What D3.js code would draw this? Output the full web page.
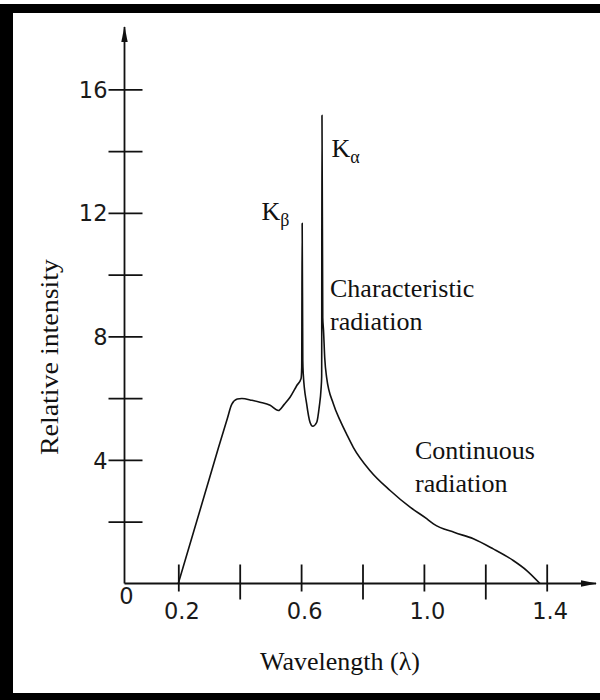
<!DOCTYPE html>
<html>
<head>
<meta charset="utf-8">
<script src="https://cdn.jsdelivr.net/npm/d3@7"></script>
<style>
  html, body { margin: 0; padding: 0; background: #fff; }
  svg { display: block; }
</style>
</head>
<body>
<svg id="chart" width="600" height="700"></svg>
<script>
// X-ray tube spectrum: relative intensity against wavelength
const wavelength = [
  0.200, 0.287, 0.330, 0.360, 0.374, 0.392, 0.407, 0.440, 0.466, 0.499,
  0.526, 0.545, 0.564, 0.586, 0.600, 0.602, 0.6035, 0.6055, 0.607, 0.618,
  0.629, 0.638, 0.651, 0.659, 0.665, 0.667, 0.668, 0.6705, 0.673, 0.677,
  0.683, 0.705, 0.727, 0.749, 0.770, 0.824, 0.890, 0.955, 1.009, 1.031,
  1.100, 1.161, 1.226, 1.291, 1.335, 1.378
];
const intensity = [
  0.00, 2.92, 4.37, 5.35, 5.80, 5.97, 5.99, 5.93, 5.87, 5.77,
  5.60, 5.80, 6.03, 6.41, 6.64, 7.00, 11.66, 7.20, 6.79, 5.82,
  5.22, 5.09, 5.22, 5.71, 6.30, 6.70, 15.16, 8.60, 8.20, 7.30,
  6.68, 5.82, 5.28, 4.82, 4.41, 3.66, 3.01, 2.47, 2.10, 1.93,
  1.65, 1.45, 1.12, 0.745, 0.42, 0.00
];

const xTickValues = [0.2, 0.4, 0.6, 0.8, 1.0, 1.2, 1.4];
const xTickLabels = ["0.2", "", "0.6", "", "1.0", "", "1.4"];
const yTickValues = [2, 4, 6, 8, 10, 12, 14, 16];
const yTickLabels = ["", "4", "", "8", "", "12", "", "16"];
const originLabel = "0";

const xTitle = "Wavelength (λ)";
const yTitle = "Relative intensity";
const peakNames = [
  { base: "K", sub: "β" },
  { base: "K", sub: "α" }
];
const noteCharacteristic = ["Characteristic", "radiation"];
const noteContinuous = ["Continuous", "radiation"];

const svg = d3.select("#chart");
const serif = "'Liberation Serif', 'Times New Roman', serif";
const sans = "'DejaVu Sans', Verdana, sans-serif";
const ink = "#111";

// frame
svg.append("rect").attr("x", 0).attr("y", 4).attr("width", 600).attr("height", 9).attr("fill", "#000");
svg.append("rect").attr("x", 0).attr("y", 4).attr("width", 13).attr("height", 696).attr("fill", "#000");
svg.append("rect").attr("x", 0).attr("y", 693).attr("width", 600).attr("height", 7).attr("fill", "#000");

// scales
const x = d3.scaleLinear().domain([0.2, 1.4]).range([178.3, 546.7]);
const y = d3.scaleLinear().domain([0, 16]).range([583.5, 89.3]);
const originX = 124.5;

// arrowheads
const defs = svg.append("defs");
defs.append("marker")
  .attr("id", "arrow")
  .attr("viewBox", "0 0 16 8")
  .attr("refX", 15).attr("refY", 4)
  .attr("markerWidth", 16).attr("markerHeight", 8)
  .attr("markerUnits", "userSpaceOnUse")
  .attr("orient", "auto")
  .append("path")
  .attr("d", "M0,0.8 L16,4 L0,7.2 Z")
  .attr("fill", ink);

// axis lines
svg.append("line")
  .attr("x1", originX).attr("y1", y(0))
  .attr("x2", 596).attr("y2", y(0))
  .attr("stroke", ink).attr("stroke-width", 1.8)
  .attr("marker-end", "url(#arrow)");
svg.append("line")
  .attr("x1", originX).attr("y1", y(0))
  .attr("x2", originX).attr("y2", 27)
  .attr("stroke", ink).attr("stroke-width", 1.8)
  .attr("marker-end", "url(#arrow)");

// x axis ticks
const xAxis = d3.axisBottom(x)
  .tickValues(xTickValues)
  .tickSize(0)
  .tickPadding(0)
  .tickFormat((d, i) => xTickLabels[i]);
const gx = svg.append("g")
  .attr("transform", `translate(0,${y(0)})`)
  .call(xAxis);
gx.select(".domain").remove();
gx.selectAll(".tick line")
  .attr("y1", -19)
  .attr("y2", (d, i) => xTickLabels[i] ? 8 : 16)
  .attr("stroke", ink).attr("stroke-width", 1.8);
gx.selectAll(".tick text")
  .attr("x", 3)
  .attr("y", 35.5)
  .attr("dy", null)
  .attr("fill", "#1a1a1a")
  .style("font-family", sans)
  .style("font-size", "22.5px");

// y axis ticks
const yAxis = d3.axisLeft(y)
  .tickValues(yTickValues)
  .tickSize(0)
  .tickPadding(0)
  .tickFormat((d, i) => yTickLabels[i]);
const gy = svg.append("g")
  .attr("transform", `translate(${originX},0)`)
  .call(yAxis);
gy.select(".domain").remove();
gy.selectAll(".tick line")
  .attr("x1", -16).attr("x2", 18)
  .attr("stroke", ink).attr("stroke-width", 1.8);
gy.selectAll(".tick text")
  .attr("x", -17)
  .attr("dy", "0.36em")
  .attr("fill", "#1a1a1a")
  .style("font-family", sans)
  .style("font-size", "22.5px");

// origin label
svg.append("text")
  .attr("x", originX + 2).attr("y", 604)
  .attr("text-anchor", "middle")
  .attr("fill", "#1a1a1a")
  .style("font-family", sans).style("font-size", "22.5px")
  .text(originLabel);

// spectrum curve
const pts = wavelength.map((w, i) => [w, intensity[i]]);
const line = d3.line()
  .x(d => x(d[0]))
  .y(d => y(d[1]))
  .curve(d3.curveMonotoneX);
svg.append("path")
  .datum(pts)
  .attr("d", line)
  .attr("fill", "none")
  .attr("stroke", ink)
  .attr("stroke-width", 1.6)
  .attr("stroke-linejoin", "round");

// axis titles
svg.append("text")
  .attr("x", 340).attr("y", 670)
  .attr("text-anchor", "middle")
  .attr("fill", ink)
  .style("font-family", serif).style("font-size", "26px")
  .text(xTitle);
svg.append("text")
  .attr("transform", "translate(57.5,357) rotate(-90)")
  .attr("text-anchor", "middle")
  .attr("textLength", 196)
  .attr("lengthAdjust", "spacingAndGlyphs")
  .attr("fill", ink)
  .style("font-family", serif).style("font-size", "26px")
  .text(yTitle);

// peak labels
const peakPos = [[261.5, 220], [331.5, 156.5]];
peakNames.forEach((p, i) => {
  const t = svg.append("text")
    .attr("x", peakPos[i][0]).attr("y", peakPos[i][1])
    .attr("fill", ink)
    .style("font-family", serif).style("font-size", "26px");
  t.append("tspan").text(p.base);
  t.append("tspan").attr("dy", 6).style("font-size", "18px").text(p.sub);
});

// region notes
function note(lines, x0, y0, lh) {
  const t = svg.append("text")
    .attr("fill", ink)
    .style("font-family", serif).style("font-size", "26px");
  lines.forEach((s, i) => {
    t.append("tspan").attr("x", x0).attr("y", y0 + i * lh).text(s);
  });
}
note(noteCharacteristic, 330, 296.5, 33.5);
note(noteContinuous, 415, 458.5, 33.5);
</script>
</body>
</html>
